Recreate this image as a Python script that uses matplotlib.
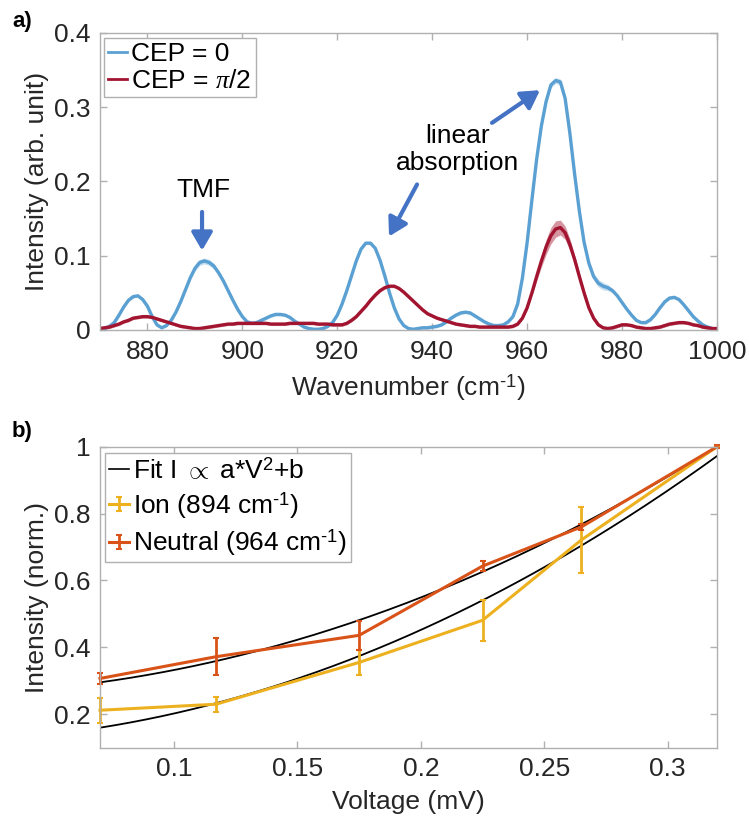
import numpy as np
import matplotlib
matplotlib.use("Agg")
import matplotlib.pyplot as plt
from matplotlib.legend_handler import HandlerErrorbar

plt.rcParams['font.family'] = ['Liberation Sans', 'DejaVu Sans']
plt.rcParams['mathtext.fontset'] = 'custom'
plt.rcParams['mathtext.rm'] = 'Liberation Sans'
plt.rcParams['mathtext.it'] = 'Liberation Serif:italic'

# ---------------- Panel a data ----------------
wavenumber = np.arange(870, 1001, 1)
cep0 = [0.002, 0.002, 0.005, 0.010, 0.020, 0.031, 0.040, 0.045, 0.046, 0.041,   # 870
        0.032, 0.018, 0.007, 0.003, 0.006, 0.013, 0.024, 0.038, 0.054, 0.070,   # 880
        0.083, 0.091, 0.093, 0.091, 0.086, 0.077, 0.066, 0.053, 0.040, 0.028,   # 890
        0.018, 0.011, 0.009, 0.010, 0.013, 0.016, 0.019, 0.021, 0.021, 0.020,   # 900
        0.017, 0.012, 0.008, 0.004, 0.002, 0.001, 0.001, 0.002, 0.005, 0.010,   # 910
        0.020, 0.035, 0.053, 0.073, 0.093, 0.109, 0.117, 0.117, 0.110, 0.094,   # 920
        0.073, 0.050, 0.030, 0.015, 0.006, 0.002, 0.001, 0.002, 0.003, 0.003,   # 930
        0.004, 0.005, 0.007, 0.011, 0.016, 0.020, 0.023, 0.024, 0.023, 0.019,   # 940
        0.015, 0.011, 0.008, 0.006, 0.006, 0.007, 0.011, 0.018, 0.035, 0.070,   # 950
        0.118, 0.175, 0.230, 0.275, 0.308, 0.330, 0.336, 0.334, 0.312, 0.265,   # 960
        0.210, 0.160, 0.118, 0.090, 0.072, 0.063, 0.059, 0.057, 0.053, 0.046,   # 970
        0.037, 0.028, 0.020, 0.013, 0.010, 0.010, 0.014, 0.021, 0.030, 0.038,   # 980
        0.043, 0.044, 0.041, 0.034, 0.026, 0.018, 0.012, 0.007, 0.004, 0.002,   # 990
        0.001]                                                                  # 1000
cep0_err = [0.002] * 19 + [0.003, 0.004, 0.004, 0.004, 0.004, 0.004, 0.003] + [0.002] * 65 + \
           [0.003, 0.004, 0.004, 0.004, 0.004, 0.004, 0.004, 0.004, 0.004, 0.004,
            0.005, 0.005, 0.005, 0.005, 0.005, 0.005, 0.004, 0.003] + [0.002] * 22
cep_pi2 = [0.002, 0.003, 0.004, 0.006, 0.008, 0.011, 0.013, 0.016, 0.017, 0.018,   # 870
           0.018, 0.017, 0.015, 0.013, 0.011, 0.009, 0.007, 0.005, 0.004, 0.003,   # 880
           0.002, 0.002, 0.003, 0.004, 0.005, 0.006, 0.007, 0.008, 0.008, 0.009,   # 890
           0.009, 0.009, 0.009, 0.009, 0.009, 0.009, 0.008, 0.008, 0.008, 0.008,   # 900
           0.009, 0.009, 0.009, 0.009, 0.009, 0.009, 0.008, 0.008, 0.008, 0.007,   # 910
           0.007, 0.007, 0.009, 0.013, 0.018, 0.025, 0.032, 0.040, 0.047, 0.053,   # 920
           0.057, 0.059, 0.059, 0.056, 0.051, 0.045, 0.039, 0.033, 0.027, 0.022,   # 930
           0.019, 0.016, 0.014, 0.012, 0.010, 0.008, 0.007, 0.006, 0.005, 0.005,   # 940
           0.004, 0.004, 0.004, 0.004, 0.004, 0.004, 0.004, 0.005, 0.008, 0.016,   # 950
           0.030, 0.050, 0.072, 0.093, 0.112, 0.127, 0.136, 0.138, 0.131, 0.115,   # 960
           0.095, 0.072, 0.050, 0.030, 0.016, 0.007, 0.003, 0.002, 0.003, 0.005,   # 970
           0.007, 0.007, 0.006, 0.004, 0.003, 0.002, 0.002, 0.003, 0.004, 0.006,   # 980
           0.008, 0.009, 0.010, 0.010, 0.009, 0.007, 0.006, 0.004, 0.003, 0.002,   # 990
           0.002]                                                                  # 1000
cep_pi2_err = [0.002] * 90 + [0.003, 0.004, 0.006, 0.008, 0.010, 0.011, 0.011, 0.010,
                              0.009, 0.008, 0.006, 0.005, 0.004, 0.003] + [0.002] * 27

# ---------------- Panel b data ----------------
voltage = [0.07, 0.117, 0.175, 0.225, 0.265, 0.32]
ion = [0.212, 0.230, 0.355, 0.481, 0.721, 1.0]
ion_err = [0.038, 0.022, 0.037, 0.062, 0.100, 0.0]
neutral = [0.307, 0.372, 0.436, 0.643, 0.760, 1.0]
neutral_err = [0.016, 0.055, 0.044, 0.015, 0.010, 0.004]
# fit I = a*V^2 + b
fit_ion_ab = (8.33, 0.119)
fit_neutral_ab = (7.23, 0.260)

blue = '#5AA0D2'
red = '#A2142F'
yellow = '#EDB120'
orange = '#D95319'
arrow_c = '#4472C4'
axis_gray = '#B0B0B0'
text_c = '#262626'
FS = 19
HY = '\u2010'

fig = plt.figure(figsize=(7.49, 8.23), dpi=100)
W, H = 749, 823

def style_axes(ax):
    for s in ax.spines.values():
        s.set_color(axis_gray)
        s.set_linewidth(1.0)
    ax.tick_params(direction='in', length=5, width=1.0, color=axis_gray,
                   top=True, right=True, labelsize=FS, labelcolor=text_c, pad=7)

# ---- Panel a ----
ax1 = fig.add_axes([100 / W, 1 - 330 / H, 617 / W, 297 / H])
w = np.asarray(wavenumber)
y0 = np.asarray(cep0); e0 = np.asarray(cep0_err)
y1 = np.asarray(cep_pi2); e1 = np.asarray(cep_pi2_err)
ax1.fill_between(w, y0 - e0, y0 + e0, color=blue, alpha=0.35, lw=0)
ax1.plot(w, y0, color=blue, lw=2.4, label='CEP = 0', solid_joinstyle='round')
ax1.fill_between(w, y1 - e1, y1 + e1, color=red, alpha=0.45, lw=0)
ax1.plot(w, y1, color=red, lw=2.4, label='CEP = $\\pi$/2', solid_joinstyle='round')
ax1.set_xlim(870, 1000)
ax1.set_ylim(0, 0.4)
ax1.set_xticks([880, 900, 920, 940, 960, 980, 1000])
ax1.set_yticks([0, 0.1, 0.2, 0.3, 0.4])
ax1.set_yticklabels(['0', '0.1', '0.2', '0.3', '0.4'])
style_axes(ax1)
ax1.set_xlabel('Wavenumber (cm$^{' + HY + '1}$)', fontsize=FS, color=text_c, labelpad=6)
ax1.set_ylabel('Intensity (arb. unit)', fontsize=FS, color=text_c, labelpad=3)
leg1 = ax1.legend(loc='upper left', bbox_to_anchor=(0.006, 0.983), fontsize=FS,
                  handlelength=0.75, handletextpad=0.15, borderpad=0.15,
                  labelspacing=0.12, borderaxespad=0, fancybox=False,
                  edgecolor=axis_gray, framealpha=1)
leg1.get_frame().set_linewidth(1.0)
for ln in leg1.get_lines():
    ln.set_linewidth(2.0)

ap = dict(arrowstyle='-|>,head_length=0.6,head_width=0.35', color=arrow_c, lw=3.0,
          shrinkA=0, shrinkB=0, mutation_scale=18)
ax1.annotate('', xy=(891.5, 0.107), xytext=(891.5, 0.159), arrowprops=ap)
ax1.text(891.7, 0.188, 'TMF', fontsize=FS, ha='center', va='center', color='black')
ax1.annotate('', xy=(930.9, 0.126), xytext=(936.8, 0.196), arrowprops=ap)
ax1.annotate('', xy=(962.7, 0.323), xytext=(952.6, 0.279), arrowprops=ap)
ax1.text(945.3, 0.243, 'linear\nabsorption', fontsize=FS, ha='center', va='center',
         color='black', linespacing=1.2)

# ---- Panel b ----
ax2 = fig.add_axes([100 / W, 1 - 747.7 / H, 617 / W, 301 / H])
vf = np.linspace(voltage[0], voltage[-1], 200)
a_i, b_i = fit_ion_ab
a_n, b_n = fit_neutral_ab
ax2.plot(vf, a_n * vf ** 2 + b_n, color='black', lw=1.3, label='Fit I $\\propto$ a*V$^2$+b')
ax2.plot(vf, a_i * vf ** 2 + b_i, color='black', lw=1.3)
ax2.errorbar(voltage, ion, yerr=ion_err, color=yellow, lw=2.2, elinewidth=2.0,
             capsize=2.5, capthick=1.5, label='Ion (894 cm$^{' + HY + '1}$)', clip_on=False)
ax2.errorbar(voltage, neutral, yerr=neutral_err, color=orange, lw=2.2, elinewidth=2.0,
             capsize=2.5, capthick=1.5, label='Neutral (964 cm$^{' + HY + '1}$)', clip_on=False)
ax2.set_xlim(0.07, 0.32)
ax2.set_ylim(0.1, 1.0)
ax2.set_xticks([0.1, 0.15, 0.2, 0.25, 0.3])
ax2.set_xticklabels(['0.1', '0.15', '0.2', '0.25', '0.3'])
ax2.set_yticks([0.2, 0.4, 0.6, 0.8, 1.0])
ax2.set_yticklabels(['0.2', '0.4', '0.6', '0.8', '1'])
style_axes(ax2)
ax2.set_xlabel('Voltage (mV)', fontsize=FS, color=text_c, labelpad=6)
ax2.set_ylabel('Intensity (norm.)', fontsize=FS, color=text_c, labelpad=3)
hm = {type(c): HandlerErrorbar(xerr_size=0.27, yerr_size=0.27) for c in ax2.containers}
leg2 = ax2.legend(loc='upper left', bbox_to_anchor=(0.008, 0.98), fontsize=FS,
                  handlelength=0.75, handletextpad=0.15, borderpad=0.15,
                  labelspacing=0.25, borderaxespad=0, fancybox=False,
                  edgecolor=axis_gray, framealpha=1, handler_map=hm)
leg2.get_frame().set_linewidth(1.0)
for ln in leg2.get_lines():
    ln.set_linewidth(1.2)

fig.text(12 / W, 1 - 22 / H, 'a)', fontsize=16, fontweight='bold', va='center', ha='left')
fig.text(12 / W, 1 - 432 / H, 'b)', fontsize=16, fontweight='bold', va='center', ha='left')

fig.savefig('out.png', dpi=100)
